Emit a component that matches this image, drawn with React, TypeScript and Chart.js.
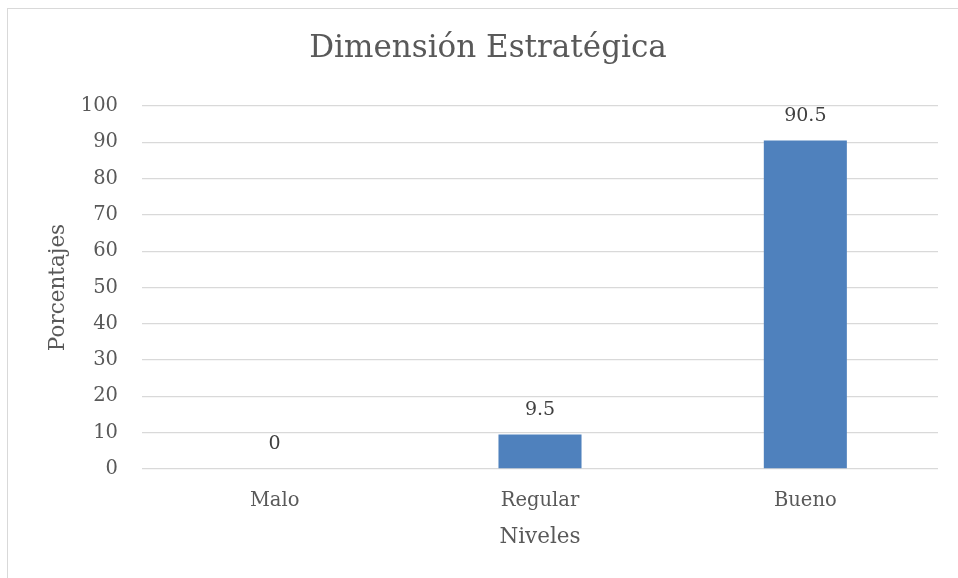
import React, { useEffect, useRef } from "react";
import { Chart, registerables } from "chart.js";

Chart.register(...registerables);

const categories = ["Malo", "Regular", "Bueno"];
const percentages = [0, 9.5, 90.5];
const yTicks = [0, 10, 20, 30, 40, 50, 60, 70, 80, 90, 100];

const FONT = "'DejaVu Serif', 'Liberation Serif', serif";
const TEXT = "#595959";
const LABEL_TEXT = "#404040";
const GRID = "#d9d9d9";
const BAR = "#4F81BD";

// Writes each bar's value above it.
const valueLabels = {
  id: "valueLabels",
  afterDatasetsDraw(chart: any) {
    const { ctx } = chart;
    const meta = chart.getDatasetMeta(0);
    ctx.save();
    ctx.font = `19px ${FONT}`;
    ctx.fillStyle = LABEL_TEXT;
    ctx.textAlign = "center";
    ctx.textBaseline = "middle";
    meta.data.forEach((bar: any, i: number) => {
      const v = chart.data.datasets[0].data[i];
      ctx.fillText(String(v), bar.x, bar.y - 24.5);
    });
    ctx.restore();
  },
};

export default function App() {
  const canvasRef = useRef<HTMLCanvasElement | null>(null);

  useEffect(() => {
    if (!canvasRef.current) return;
    const chart = new Chart(canvasRef.current, {
      type: "bar",
      data: {
        labels: categories,
        datasets: [
          {
            data: percentages,
            backgroundColor: BAR,
            borderWidth: 0,
            categoryPercentage: 1,
            barPercentage: 0.313,
          },
        ],
      },
      options: {
        animation: false,
        responsive: false,
        maintainAspectRatio: false,
        layout: { padding: { left: 38, right: 20, top: 0, bottom: 0 } },
        plugins: {
          legend: { display: false },
          tooltip: { enabled: false },
          title: {
            display: true,
            text: "Dimensión Estratégica",
            color: TEXT,
            font: { family: FONT, size: 31, weight: "normal", lineHeight: 1.2 },
            padding: { top: 29.9, bottom: 38.9 },
          },
        },
        scales: {
          x: {
            grid: { display: false },
            border: { display: false },
            ticks: {
              color: TEXT,
              font: { family: FONT, size: 19.5 },
              padding: 12.5,
            },
            title: {
              display: true,
              text: "Niveles",
              color: TEXT,
              font: { family: FONT, size: 21.5 },
              padding: { top: 0, bottom: 28 },
            },
            afterFit(scale: any) {
              scale.height = 109;
            },
          },
          y: {
            min: 0,
            max: 100,
            afterBuildTicks(scale: any) {
              scale.ticks = yTicks.map((v) => ({ value: v }));
            },
            grid: { color: GRID, lineWidth: 1.3, drawTicks: false },
            border: { display: false },
            ticks: {
              color: TEXT,
              font: { family: FONT, size: 19.5 },
              padding: 24,
            },
            title: {
              display: true,
              text: "Porcentajes",
              color: TEXT,
              font: { family: FONT, size: 21.5 },
              padding: { top: 7.5, bottom: 0 },
            },
            afterFit(scale: any) {
              scale.width = 104;
            },
          },
        },
      },
      plugins: [valueLabels],
    });
    return () => chart.destroy();
  }, []);

  return (
    <div
      style={{
        position: "fixed",
        left: 0,
        top: 0,
        width: 958,
        height: 578,
        overflow: "hidden",
        background: "#ffffff",
      }}
    >
      <div
        style={{
          position: "absolute",
          left: 7,
          top: 8,
          width: 1000,
          height: 1000,
          border: `1.3px solid ${GRID}`,
          boxSizing: "border-box",
        }}
      />
      <canvas
        ref={canvasRef}
        width={958}
        height={578}
        style={{ position: "absolute", left: 0, top: 0, width: 958, height: 578 }}
      />
    </div>
  );
}
